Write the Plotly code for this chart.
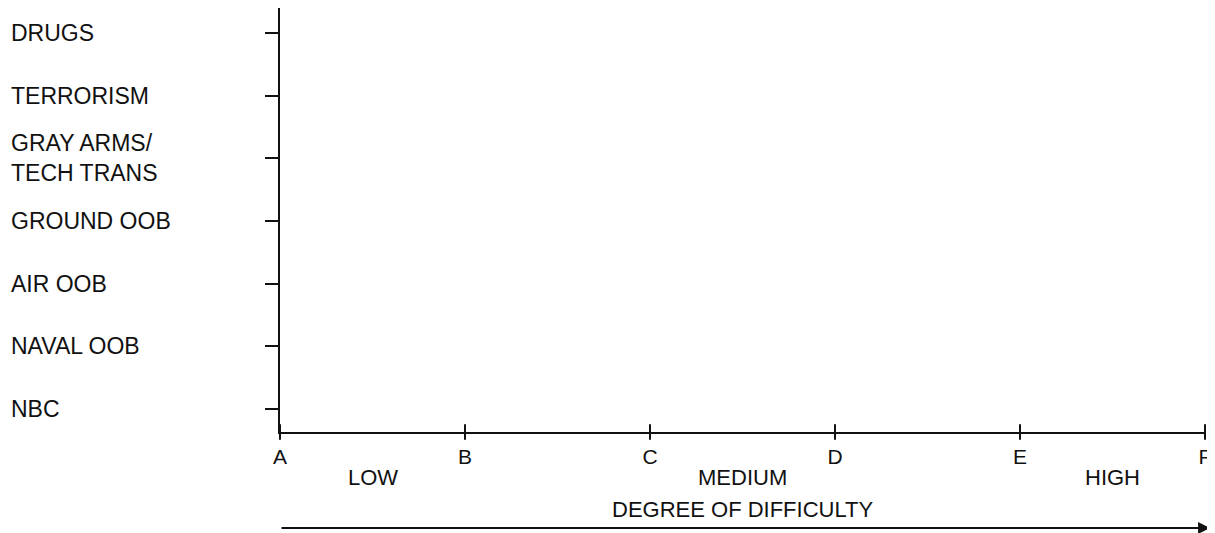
import plotly.graph_objects as go

# ---- data ----
threat_categories = ["NBC", "NAVAL OOB", "AIR OOB", "GROUND OOB",
                     "GRAY ARMS/<br>TECH TRANS", "TERRORISM", "DRUGS"]
difficulty_levels = ["A", "B", "C", "D", "E", "F"]
difficulty_bands = [("LOW", "A", "B"), ("MEDIUM", "C", "D"), ("HIGH", "E", "F")]
x_title = "DEGREE OF DIFFICULTY"

FONT = "Liberation Sans, Arial, Helvetica, sans-serif"
INK = "#111111"

# the page body keeps its default 8px margin, so the figure is sized to fit
PAGE_MARGIN = 8
W, H = 1215 - PAGE_MARGIN, 533 - PAGE_MARGIN
L, R, T, B = 272, 10, 0, 101
plot_w = W - L - R
plot_h = H - T - B

y_idx = list(range(len(threat_categories)))
x_idx = list(range(len(difficulty_levels)))
y_lo, y_hi = -0.37, len(threat_categories) - 1 + 0.40


def py_to_paper(py):
    return (H - B - py) / plot_h


fig = go.Figure()

# crossing tick marks on the horizontal axis
fig.add_trace(go.Scatter(
    x=x_idx, y=[y_lo] * len(x_idx), mode="markers",
    marker=dict(symbol="line-ns", size=11, line=dict(width=2, color=INK)),
    cliponaxis=False, hoverinfo="skip", showlegend=False))

fig.update_xaxes(
    range=[0, len(difficulty_levels) - 1],
    tickmode="array", tickvals=x_idx, ticktext=difficulty_levels,
    ticks="", showgrid=False, zeroline=False,
    showline=True, linecolor=INK, linewidth=2,
    tickfont=dict(family=FONT, size=21, color=INK),
    ticklabelstandoff=5)

fig.update_yaxes(
    range=[y_lo, y_hi],
    tickmode="array", tickvals=y_idx, ticktext=[""] * len(y_idx),
    ticks="outside", ticklen=13, tickwidth=2, tickcolor=INK,
    showgrid=False, zeroline=False,
    showline=True, linecolor=INK, linewidth=2)

annotations = []
# left-aligned category labels
for i, name in zip(y_idx, threat_categories):
    annotations.append(dict(
        x=(1 - L) / plot_w, xref="paper", xanchor="left",
        y=i, yref="y", yanchor="middle", text=name, showarrow=False,
        align="left", font=dict(family=FONT, size=23, color=INK)))

# band labels between tick letters
for label, lo, hi in difficulty_bands:
    xm = (difficulty_levels.index(lo) + difficulty_levels.index(hi)) / 2
    annotations.append(dict(
        x=xm, xref="x", y=py_to_paper(469), yref="paper",
        text=label, showarrow=False, yanchor="middle",
        font=dict(family=FONT, size=22, color=INK)))

# axis title
annotations.append(dict(
    x=0.5, xref="paper", y=py_to_paper(501), yref="paper",
    text=x_title, showarrow=False, yanchor="middle",
    font=dict(family=FONT, size=22, color=INK)))

# long arrow under the title
tip = 1.0055
annotations.append(dict(
    x=tip, xref="paper", y=py_to_paper(520), yref="paper",
    ax=-tip * plot_w, ay=0,
    text="", showarrow=True, arrowhead=2, arrowsize=1.2,
    arrowwidth=2, arrowcolor=INK))

fig.update_layout(
    width=W, height=H,
    margin=dict(l=L, r=R, t=T, b=B),
    plot_bgcolor="white", paper_bgcolor="white",
    showlegend=False, annotations=annotations)

fig.write_html("out.html")
